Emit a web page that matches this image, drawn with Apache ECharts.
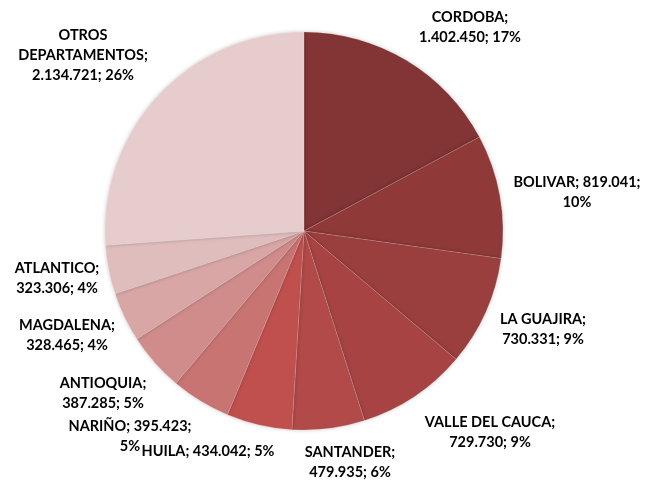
<!DOCTYPE html>
<html>
<head>
<meta charset="utf-8">
<script src="https://cdn.jsdelivr.net/npm/echarts@6/dist/echarts.min.js"></script>
<style>html,body{margin:0;padding:0;background:#fff}#c{width:659px;height:483px}</style>
</head>
<body>
<div id="c"></div>
<script>
// Data
var categories = ['CORDOBA','BOLIVAR','LA GUAJIRA','VALLE DEL CAUCA','SANTANDER','HUILA','NARIÑO','ANTIOQUIA','MAGDALENA','ATLANTICO','OTROS DEPARTAMENTOS'];
var values = [1402450, 819041, 730331, 729730, 479935, 434042, 395423, 387285, 328465, 323306, 2134721];

// Styles
var colors = ['#833435','#8f3a39','#9b3f3e','#a74443','#b14a48','#c0504d','#c87473','#cf8c8b','#d7a6a5','#dfbdbc','#e6cccd'];
// label line-break pattern: 'a' = "name;\nvalue; pct", 'b' = "name; value;\npct", 'c' = single line, 'd' = split name
var breakStyle = ['a','b','a','a','a','c','b','a','a','a','d'];
var labelPos = [[470,27],[577,192],[543,329],[490,432],[350,462],[208,451],[130,436],[103,393],[67,335],[57,278],[83,55]];

function fmt(n){ return String(n).replace(/\B(?=(\d{3})+(?!\d))/g,'.'); }

var chart = echarts.init(document.getElementById('c'), null, {renderer:'canvas'});
chart.setOption({
  animation:false,
  series:[{
    type:'pie',
    center:[304,231],
    radius:199,
    startAngle:90,
    clockwise:true,
    avoidLabelOverlap:false,
    data: categories.map(function(c,i){ return {name:c, value:values[i], itemStyle:{color:colors[i]}}; }),
    itemStyle:{borderColor:'rgba(255,255,255,0.3)', borderWidth:0.5, shadowBlur:4, shadowColor:'rgba(0,0,0,0.22)'},
    emphasis:{disabled:true},
    label:{
      show:true,
      position:'outside',
      fontFamily:'Lato',
      fontWeight:'bold',
      fontSize:14.5,
      lineHeight:20,
      color:'#000',
      align:'center',
      formatter:function(p){
        var i = p.dataIndex, v = fmt(p.value), pc = Math.round(p.percent)+'%';
        var s = breakStyle[i];
        if(s==='a') return p.name+';\n'+v+'; '+pc;
        if(s==='b') return p.name+'; '+v+';\n'+pc;
        if(s==='c') return p.name+'; '+v+'; '+pc;
        var parts = p.name.split(' ');
        return parts[0]+'\n'+parts.slice(1).join(' ')+';\n'+v+'; '+pc;
      }
    },
    labelLine:{show:false},
    labelLayout:function(p){
      var pos = labelPos[p.dataIndex];
      return {x:pos[0], y:pos[1], align:'center', verticalAlign:'middle'};
    }
  }]
});
</script>
</body>
</html>
